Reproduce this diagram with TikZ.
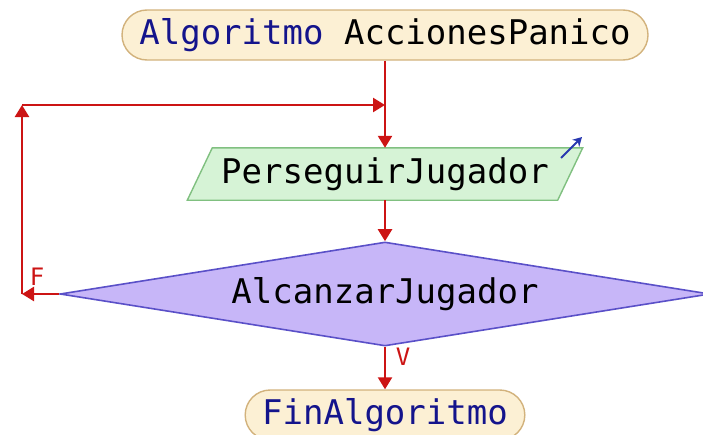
\documentclass[tikz,border=0pt]{standalone}
\usepackage{fontspec}
\setmonofont{DejaVu Sans Mono}
\newfontfamily\lblfont{DejaVu Sans Mono}
\usetikzlibrary{arrows.meta,shapes.geometric}
\definecolor{termfill}{HTML}{FCF0D4}
\definecolor{termdraw}{HTML}{D2B27C}
\definecolor{parafill}{HTML}{D6F3D6}
\definecolor{paradraw}{HTML}{80C080}
\definecolor{diafill}{HTML}{C7B6F8}
\definecolor{diadraw}{HTML}{5A50C8}
\definecolor{flowred}{HTML}{CC1414}
\definecolor{kwblue}{HTML}{14148C}
\definecolor{outblue}{HTML}{2838B0}
\tikzset{
  term/.style={draw=termdraw, fill=termfill, line width=1.4pt, rounded corners=25pt,
    minimum height=50pt, inner xsep=17pt, inner ysep=0pt,
    font=\ttfamily\fontsize{34}{40}\selectfont},
  txt/.style={inner sep=0pt, font=\ttfamily\fontsize{34}{40}\selectfont},
  flow/.style={draw=flowred, line width=2.4pt, -{Triangle[length=12pt,width=14pt]}},
  lbl/.style={text=flowred, font=\lblfont\fontsize{24}{28}\selectfont, inner sep=0pt},
}
\begin{document}
\begin{tikzpicture}[x=1pt,y=-1pt]
\useasboundingbox (0,0) rectangle (703,434);
\clip (0,0) rectangle (703,434);
% start terminal
\node[term, minimum width=526pt] (start) at (385,35) {\textcolor{kwblue}{Algoritmo} AccionesPanico};
% parallelogram (output)
\node[minimum width=370pt, minimum height=52pt, inner sep=0pt] (p) at (385,174) {};
\fill[parafill] ([xshift=12.5pt]p.north west) -- ([xshift=12.5pt]p.north east)
  -- ([xshift=-12.5pt]p.south east) -- ([xshift=-12.5pt]p.south west) -- cycle;
\draw[paradraw, line width=1.4pt] ([xshift=12.5pt]p.north west) -- ([xshift=12.5pt]p.north east)
  -- ([xshift=-12.5pt]p.south east) -- ([xshift=-12.5pt]p.south west) -- cycle;
\node[txt] (ptext) at (p.center) {PerseguirJugador};
\coordinate (oa) at (561,158);
\coordinate (ob) at (582,137);
\draw[outblue, line width=2pt, -{Stealth[length=9pt,width=10pt]}] (oa) -- (ob);
% decision
\node[diamond, draw=diadraw, fill=diafill, line width=1.6pt, inner sep=0pt,
  minimum width=650pt, minimum height=104pt] (d) at (385,294) {};
\node[txt] (dtext) at (d.center) {AlcanzarJugador};
% end terminal
\node[term, minimum width=274pt] (end) at (385,415) {\textcolor{kwblue}{FinAlgoritmo}};
% connectors
\coordinate (c1) at (22,294);
\coordinate (c2) at (22,105);
\coordinate (j) at (385,105);
\draw[flow] (start.south) -- (p.north);
\draw[flow] (p.south) -- (d.north);
\draw[flow] (d.south) -- (end.north);
\draw[flow] (d.west) -- (c1);
\draw[flow] (c1) -- (c2);
\draw[flow] (c2) -- (j);
\node[lbl] (fl) at (37,277) {F};
\node[lbl] (vl) at (403,357) {V};
\end{tikzpicture}
\end{document}
